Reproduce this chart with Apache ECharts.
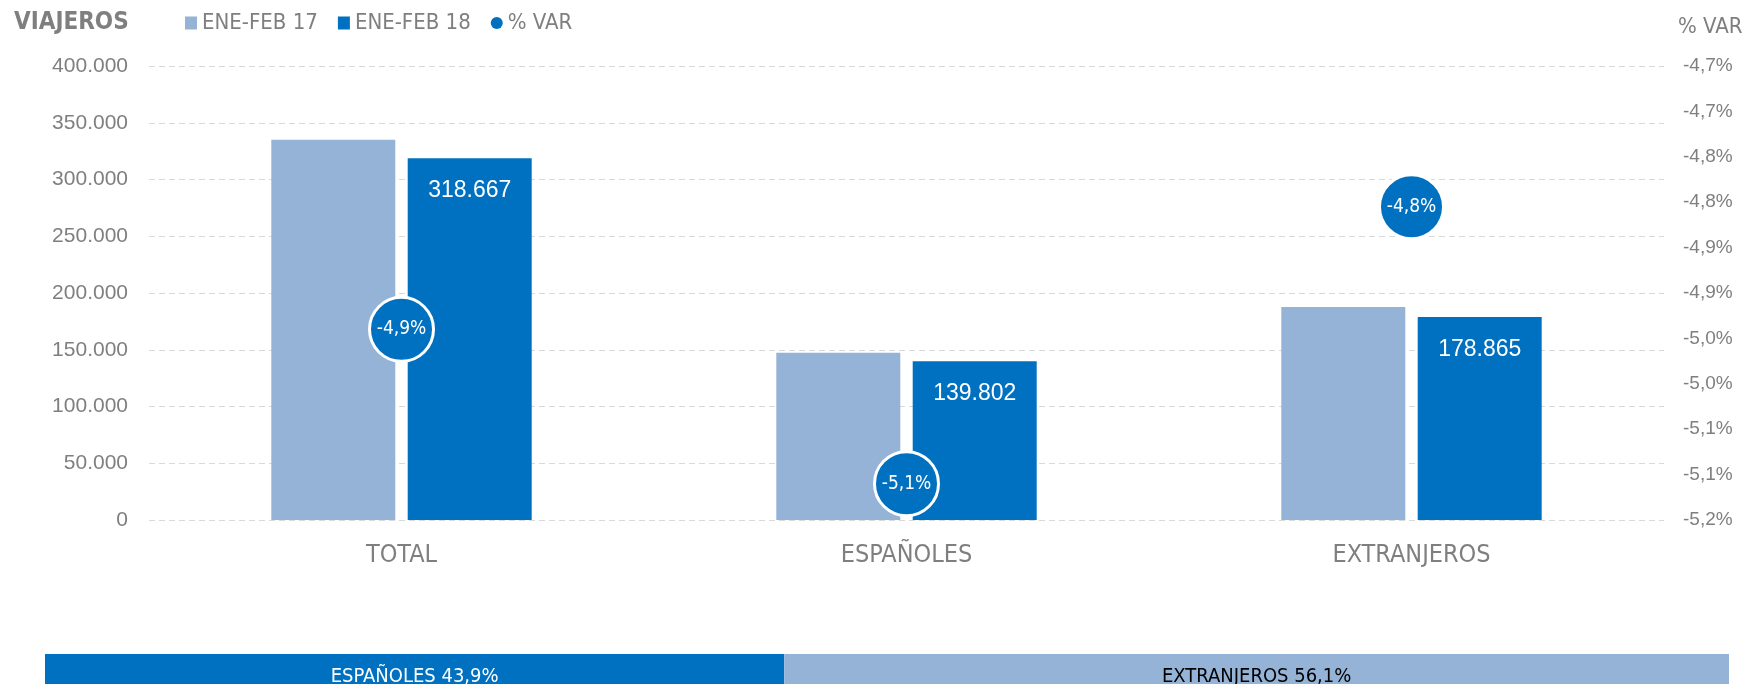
<!DOCTYPE html>
<html>
<head>
<meta charset="utf-8">
<script src="https://cdn.jsdelivr.net/npm/echarts@6/dist/echarts.min.js"></script>
<style>
html,body{margin:0;padding:0;background:#fff;}
#chart{width:1749px;height:684px;}
</style>
</head>
<body>
<div id="chart"></div>
<script>
// ---- data ----
var categories = ['TOTAL', 'ESPAÑOLES', 'EXTRANJEROS'];
var seriesNames = ['ENE-FEB 17', 'ENE-FEB 18', '% VAR'];
var viajeros17 = [335000, 147400, 187700];
var viajeros18 = [318667, 139802, 178865];
var varValues = [-4.99, -5.16, -4.855];
var varLabels = ['-4,9%', '-5,1%', '-4,8%'];
var leftTicks = [0, 50000, 100000, 150000, 200000, 250000, 300000, 350000, 400000];
var rightTickLabels = ['-5,2%', '-5,1%', '-5,1%', '-5,0%', '-5,0%', '-4,9%', '-4,9%', '-4,8%', '-4,8%', '-4,7%', '-4,7%'];
var shareNames = ['ESPAÑOLES', 'EXTRANJEROS'];
var shareValues = [43.9, 56.1];

// ---- styling ----
var NARROW = '"Liberation Sans Narrow", "Arial Narrow", "DejaVu Sans Condensed", sans-serif';
var REG = '"Liberation Sans", Arial, sans-serif';
var GRAY = '#7f7f7f';
var LIGHT = '#95b3d7';
var DARK = '#0070c0';
var varMin = -5.2, varMax = -4.7, varInterval = 0.05;

function thousands(v) {
  return String(Math.round(v)).replace(/\B(?=(\d{3})+(?!\d))/g, '.');
}

var chart = echarts.init(document.getElementById('chart'), null, {renderer: 'canvas'});
var option = {
  backgroundColor: '#ffffff',
  animation: false,
  title: {
    text: 'VIAJEROS',
    left: 14, top: 11, padding: 0,
    textStyle: {fontFamily: NARROW, fontWeight: 'bold', fontSize: 24, color: GRAY}
  },
  legend: {
    data: [
      {name: seriesNames[0], icon: 'rect'},
      {name: seriesNames[1], icon: 'rect'},
      {name: seriesNames[2], icon: 'circle', itemStyle: {borderWidth: 0, color: DARK}}
    ],
    left: 185, top: 12, padding: 0,
    itemWidth: 12, itemHeight: 13, itemGap: 20,
    textStyle: {fontFamily: NARROW, fontSize: 22, color: GRAY}
  },
  graphic: [{
    type: 'text', left: 1678, top: 16,
    style: {text: '% VAR', font: '22px ' + NARROW, fill: GRAY}
  }],
  grid: [
    {left: 149, right: 85, top: 66, bottom: 164},
    {left: 45, right: 20, top: 654, height: 38}
  ],
  xAxis: [
    {
      type: 'category', gridIndex: 0, data: categories,
      axisLine: {show: false}, axisTick: {show: false},
      axisLabel: {fontFamily: NARROW, fontSize: 25, color: GRAY, margin: 23}
    },
    {type: 'value', gridIndex: 1, min: 0, max: 100, show: false}
  ],
  yAxis: [
    {
      type: 'value', gridIndex: 0, min: 0, max: 400000, interval: 50000,
      axisLine: {show: false}, axisTick: {show: false},
      axisLabel: {fontFamily: REG, fontSize: 21, color: GRAY, margin: 21,
        formatter: function (v) { return thousands(v); }},
      splitLine: {show: true, lineStyle: {color: '#d9d9d9', width: 1, type: [6, 4]}}
    },
    {
      type: 'value', gridIndex: 0, position: 'right', min: varMin, max: varMax, interval: varInterval,
      axisLine: {show: false}, axisTick: {show: false}, splitLine: {show: false},
      axisLabel: {fontFamily: REG, fontSize: 19, color: GRAY, margin: 19,
        formatter: function (v) {
          var i = Math.round((v - varMin) / varInterval);
          return rightTickLabels[i] || '';
        }}
    },
    {type: 'category', gridIndex: 1, data: ['share'], show: false}
  ],
  series: [
    {
      name: seriesNames[0], type: 'bar', xAxisIndex: 0, yAxisIndex: 0,
      data: viajeros17, barWidth: 124, barGap: '10%',
      itemStyle: {color: LIGHT}
    },
    {
      name: seriesNames[1], type: 'bar', xAxisIndex: 0, yAxisIndex: 0,
      data: viajeros18, barWidth: 124, barGap: '10%',
      itemStyle: {color: DARK},
      label: {show: true, position: 'insideTop', distance: 21,
        fontFamily: REG, fontSize: 23, color: '#ffffff',
        formatter: function (p) { return thousands(p.value); }}
    },
    {
      name: seriesNames[2], type: 'scatter', xAxisIndex: 0, yAxisIndex: 1,
      data: varValues, symbol: 'circle', symbolSize: 64, z: 5,
      itemStyle: {color: DARK, borderColor: '#ffffff', borderWidth: 3, opacity: 1},
      label: {show: true, position: 'inside', fontFamily: NARROW, fontSize: 19, color: '#ffffff',
        formatter: function (p) { return varLabels[p.dataIndex]; }}
    },
    {
      name: shareNames[0], type: 'bar', xAxisIndex: 1, yAxisIndex: 2, stack: 'share',
      data: [shareValues[0]], barWidth: '100%',
      itemStyle: {color: DARK},
      label: {show: true, position: 'inside', offset: [0, 8], fontFamily: NARROW, fontSize: 20, color: '#ffffff',
        formatter: function (p) { return p.seriesName + ' ' + p.value.toFixed(1).replace('.', ',') + '%'; }}
    },
    {
      name: shareNames[1], type: 'bar', xAxisIndex: 1, yAxisIndex: 2, stack: 'share',
      data: [shareValues[1]], barWidth: '100%',
      itemStyle: {color: LIGHT},
      label: {show: true, position: 'inside', offset: [0, 8], fontFamily: NARROW, fontSize: 20, color: '#000000',
        formatter: function (p) { return p.seriesName + ' ' + p.value.toFixed(1).replace('.', ',') + '%'; }}
    }
  ]
};
chart.setOption(option);
</script>
</body>
</html>
